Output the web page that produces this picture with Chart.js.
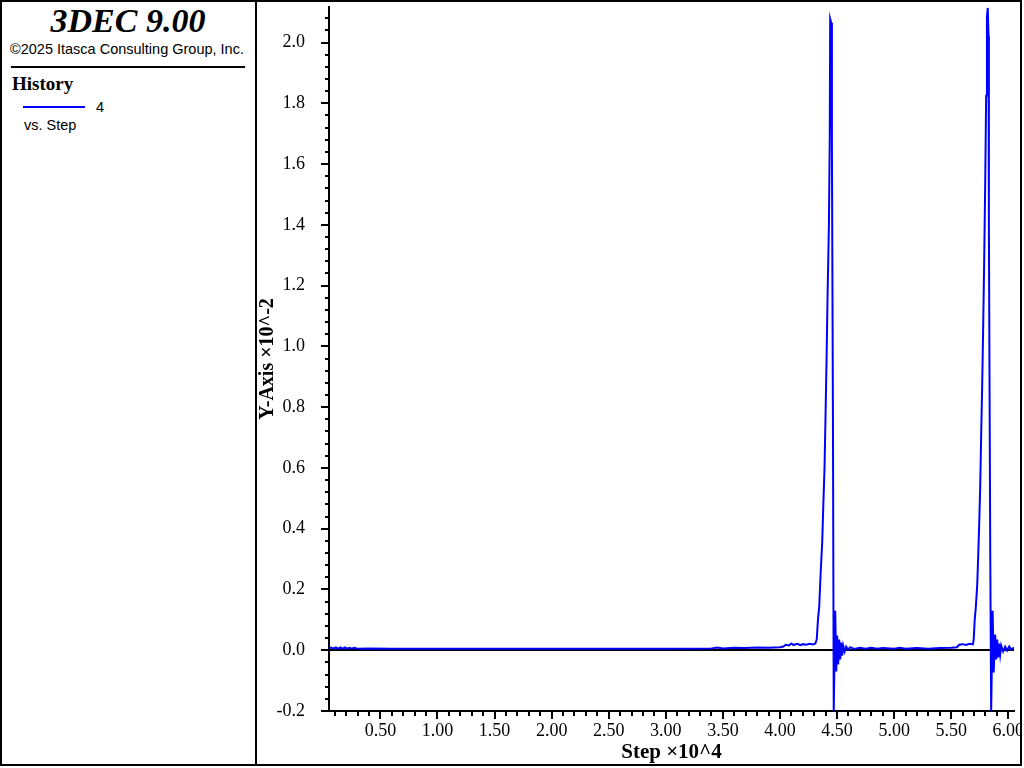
<!DOCTYPE html>
<html>
<head>
<meta charset="utf-8">
<script src="https://cdn.jsdelivr.net/npm/chart.js@4.4.1/dist/chart.umd.min.js"></script>
<style>
body{margin:0;background:#fff;}
#frame{position:absolute;left:0;top:0;width:1018px;height:762px;border:2px solid #000;}
#divider{position:absolute;left:255px;top:0;width:2px;height:766px;background:#000;}
.t{position:absolute;white-space:nowrap;color:#000;}
#title{left:0;width:256px;text-align:center;top:2px;font:italic bold 34px "Liberation Serif",serif;}
#copy{left:10px;top:41px;font:14.5px "Liberation Sans",Arial,sans-serif;}
#rule{position:absolute;left:11px;top:66px;width:234px;height:2px;background:#000;}
#hist{left:12px;top:73px;font:bold 19px "Liberation Serif",serif;}
#legline{position:absolute;left:23px;top:106px;width:62px;height:2px;background:#0000ff;}
#leg4{left:96px;top:99px;font:14.5px "Liberation Sans",Arial,sans-serif;}
#vs{left:24px;top:117px;font:14.5px "Liberation Sans",Arial,sans-serif;}
#wrap{position:absolute;left:257px;top:2px;width:763px;height:762px;}
</style>
</head>
<body>
<div id="frame"></div>
<div id="divider"></div>
<div class="t" id="title">3DEC 9.00</div>
<div class="t" id="copy">©2025 Itasca Consulting Group, Inc.</div>
<div id="rule"></div>
<div class="t" id="hist">History</div>
<div id="legline"></div>
<div class="t" id="leg4">4</div>
<div class="t" id="vs">vs. Step</div>
<div id="wrap"><canvas id="mycanvas" width="763" height="762"></canvas></div>
<script>
// step (x10^4)
var steps = [
	0.05, 0.07, 0.09, 0.11, 0.13, 0.15, 0.17, 0.19, 0.21, 0.23, 0.25, 0.27, 0.30, 0.40, 0.60,
	1.00, 1.50, 2.00, 2.50, 3.00, 3.40, 3.45, 3.50, 3.60, 3.70, 3.80, 3.90, 4.00,
	4.03, 4.05, 4.08, 4.10, 4.12, 4.15, 4.18, 4.20, 4.23, 4.26, 4.29, 4.31,
	4.322, 4.333, 4.344, 4.357, 4.370, 4.379, 4.391, 4.399, 4.408, 4.417, 4.429, 4.436,
	4.440, 4.449, 4.455, 4.464, 4.471,
	4.484, 4.493, 4.501, 4.510, 4.519, 4.528, 4.536, 4.545, 4.554, 4.567, 4.580, 4.598, 4.615,
	4.65, 4.70, 4.75, 4.80, 4.85, 4.90, 5.00, 5.05, 5.10, 5.20, 5.30, 5.40, 5.50,
	5.55, 5.57, 5.60, 5.63, 5.66, 5.69,
	5.697, 5.706, 5.716, 5.728, 5.736, 5.745, 5.754, 5.763, 5.771, 5.780, 5.789, 5.798,
	5.806, 5.813, 5.820, 5.827, 5.830, 5.842, 5.850,
	5.863, 5.872, 5.885, 5.894, 5.903, 5.911, 5.920, 5.929, 5.938, 5.955, 5.973, 5.990,
	6.008, 6.025, 6.05
];
// history 4 (x10^-2)
var hist4 = [
	0.006, 0.009, 0.005, 0.009, 0.005, 0.009, 0.005, 0.009, 0.005, 0.008, 0.005, 0.008, 0.005, 0.006, 0.005,
	0.005, 0.005, 0.005, 0.005, 0.005, 0.006, 0.009, 0.006, 0.008, 0.007, 0.009, 0.008, 0.010,
	0.012, 0.018, 0.016, 0.022, 0.017, 0.021, 0.017, 0.020, 0.018, 0.021, 0.019, 0.022,
	0.035, 0.101, 0.144, 0.259, 0.354, 0.469, 0.608, 0.769, 0.953, 1.164, 1.407, 1.680,
	2.078, 2.065, 1.680, 0.775, -0.200,
	0.130, -0.070, 0.048, -0.047, 0.035, -0.030, 0.025, -0.018, 0.015, -0.004, 0.012, 0.002, 0.010,
	0.004, 0.008, 0.005, 0.008, 0.005, 0.007, 0.005, 0.008, 0.005, 0.007, 0.005, 0.007, 0.008,
	0.010, 0.018, 0.020, 0.017, 0.021, 0.019,
	0.035, 0.101, 0.144, 0.216, 0.305, 0.413, 0.538, 0.719, 0.864, 1.062, 1.285, 1.542,
	1.825, 2.084, 2.114, 2.022, 1.401, 0.321, -0.200,
	0.130, -0.073, 0.052, -0.030, 0.035, -0.024, 0.022, -0.014, 0.015, -0.004, 0.012, -0.001,
	0.012, 0.002, 0.009
];

var xMajor = [0.5, 1.0, 1.5, 2.0, 2.5, 3.0, 3.5, 4.0, 4.5, 5.0, 5.5, 6.0];
var yMajor = [-0.2, 0.0, 0.2, 0.4, 0.6, 0.8, 1.0, 1.2, 1.4, 1.6, 1.8, 2.0];

function isMajor(list, v) {
	for (var i = 0; i < list.length; i++) {
		if (Math.abs(list[i] - v) < 1e-6) return true;
	}
	return false;
}

var points = [];
for (var i in steps) {
	points.push({x: steps[i], y: hist4[i]});
}

// no label overhang padding, so the plot box matches the original
function noPad(scale) {
	scale.paddingTop = 0;
	scale.paddingBottom = 0;
	scale.paddingLeft = 0;
	scale.paddingRight = 0;
}

var tickMarks = {
	id: 'tickMarks',
	afterDraw: function(chart) {
		var ctx = chart.ctx;
		var xs = chart.scales.x, ys = chart.scales.y;
		ctx.save();
		ctx.strokeStyle = '#000';
		ctx.lineWidth = 2;
		xs.ticks.forEach(function(t) {
			var px = Math.round(xs.getPixelForValue(t.value));
			var len = isMajor(xMajor, t.value) ? 8 : 5;
			ctx.beginPath();
			ctx.moveTo(px, xs.top);
			ctx.lineTo(px, xs.top + len);
			ctx.stroke();
		});
		ys.ticks.forEach(function(t) {
			var py = Math.round(ys.getPixelForValue(t.value));
			var len = isMajor(yMajor, t.value) ? 8 : 4;
			ctx.beginPath();
			ctx.moveTo(ys.right - len, py);
			ctx.lineTo(ys.right, py);
			ctx.stroke();
		});
		ctx.restore();
	}
};

var ctx = document.getElementById('mycanvas');

var LineGraph = new Chart(ctx, {
	type: 'line',
	data: {
		datasets: [{
			label: '4',
			data: points,
			borderColor: '#0000ff',
			borderWidth: 2,
			pointRadius: 0,
			tension: 0,
			fill: false
		}]
	},
	options: {
		responsive: false,
		animation: false,
		devicePixelRatio: 1,
		layout: {padding: {top: 5, right: 6, left: 0, bottom: 0}},
		plugins: {legend: {display: false}, tooltip: {enabled: false}},
		scales: {
			x: {
				type: 'linear',
				min: 0.05,
				max: 6.05,
				afterBuildTicks: function(scale) {
					var t = [];
					for (var k = 1; k <= 60; k++) t.push({value: Math.round(k * 10) / 100});
					scale.ticks = t;
				},
				afterFit: function(scale) { scale.height = 53; noPad(scale); },
				grid: {display: false, drawTicks: false},
				border: {display: true, color: '#000', width: 2},
				ticks: {
					autoSkip: false,
					maxRotation: 0,
					padding: 9,
					color: '#000',
					font: {family: 'Liberation Serif', size: 18},
					callback: function(v) { return isMajor(xMajor, v) ? v.toFixed(2) : ''; }
				},
				title: {
					display: true,
					text: 'Step \u00d710^4',
					color: '#000',
					font: {family: 'Liberation Serif', size: 21, weight: 'bold', lineHeight: 1.05},
					padding: {top: 0, bottom: 0}
				}
			},
			y: {
				type: 'linear',
				min: -0.2,
				max: 2.117,
				afterBuildTicks: function(scale) {
					var t = [];
					for (var k = 0; k <= 57; k++) t.push({value: Math.round((-0.2 + k * 0.04) * 100) / 100});
					scale.ticks = t;
				},
				afterFit: function(scale) { scale.width = 72; noPad(scale); },
				grid: {
					drawTicks: false,
					lineWidth: 2,
					color: function(c) { return (c.tick && c.tick.value === 0) ? '#000' : 'rgba(0,0,0,0)'; }
				},
				border: {display: true, color: '#000', width: 2},
				ticks: {
					autoSkip: false,
					padding: 24,
					color: '#000',
					font: {family: 'Liberation Serif', size: 18},
					callback: function(v) { return isMajor(yMajor, v) ? v.toFixed(1) : ''; }
				},
				title: {
					display: true,
					text: 'Y-Axis \u00d710^-2',
					color: '#000',
					font: {family: 'Liberation Serif', size: 20, weight: 'bold', lineHeight: 1.1},
					padding: {top: 0, bottom: 0}
				}
			}
		}
	},
	plugins: [tickMarks]
});
</script>
</body>
</html>
